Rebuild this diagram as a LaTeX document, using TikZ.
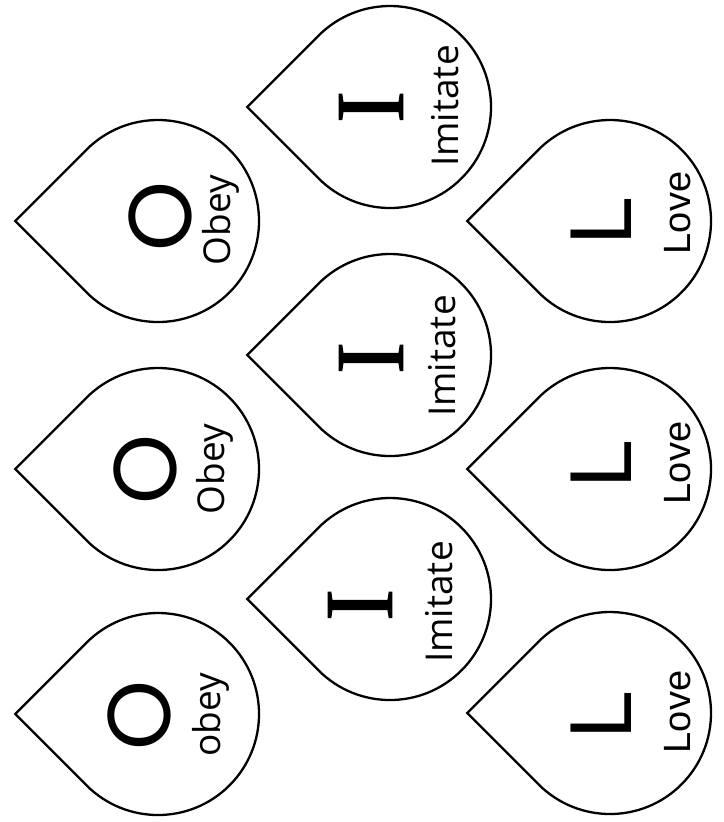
\documentclass[tikz,border=0pt]{standalone}
\usepackage{fontspec}
\newfontfamily\wordfont{Open Sans}
\newfontfamily\lovefont{Liberation Sans}
\newfontfamily\ifont[FakeBold=1.2]{Liberation Serif}
\newfontfamily\ofont{Poppins}
\tikzset{
  drop/.style={line width=2.3pt, line join=miter, black},
  bigo/.style={rotate=90, inner sep=0pt, font=\ofont\fontsize{89}{89}\selectfont},
  bigi/.style={rotate=90, inner sep=0pt, font=\ifont\fontsize{97}{97}\selectfont},
  bigl/.style={rotate=90, inner sep=0pt, font=\lovefont\fontsize{88}{88}\selectfont},
  wordsty/.style={rotate=90, inner sep=0pt, font=\wordfont\fontsize{37}{37}\selectfont},
  lovesty/.style={rotate=90, inner sep=0pt, font=\lovefont\fontsize{38}{38}\selectfont},
}
\newcommand{\teardrop}[2]{%
  \draw[drop] (#1-142.8,#2) -- ++(71.4,71.4) arc[start angle=135, end angle=-135, radius=101] -- cycle;}
\begin{document}
\begin{tikzpicture}[x=1pt,y=1pt]
\useasboundingbox (0,0) rectangle (723,822);
\fill[white] (0,0) rectangle (723,822);
% left column
\teardrop{158}{601}
\teardrop{158}{353}
\teardrop{158}{108}
% middle column
\teardrop{390}{715}
\teardrop{390}{467}
\teardrop{390}{223}
% right column
\teardrop{610}{601}
\teardrop{610}{353}
\teardrop{610}{109}
% letters and words
\node[bigo] (o1) at (160,605) {O};
\node[wordsty] (w1) at (221,602) {Obey};
\node[bigo] (o2) at (145,352) {O};
\node[wordsty] (w2) at (215,353) {Obey};
\node[bigo] (o3) at (139,106) {O};
\node[wordsty] (w3) at (211,107) {obey};
\node[bigi] (i1) at (371,715) {I};
\node[wordsty] (m1) at (445,716) {Imitate};
\node[bigi] (i2) at (371,464) {I};
\node[wordsty] (m2) at (442,466) {Imitate};
\node[bigi] (i3) at (360,217) {I};
\node[wordsty] (m3) at (439,220) {Imitate};
\node[bigl] (l1) at (601,601) {L};
\node[lovesty] (v1) at (678,609) {Love};
\node[bigl] (l2) at (601,358) {L};
\node[lovesty] (v2) at (678,359) {Love};
\node[bigl] (l3) at (601,107) {L};
\node[lovesty] (v3) at (678,110) {Love};
\end{tikzpicture}
\end{document}
